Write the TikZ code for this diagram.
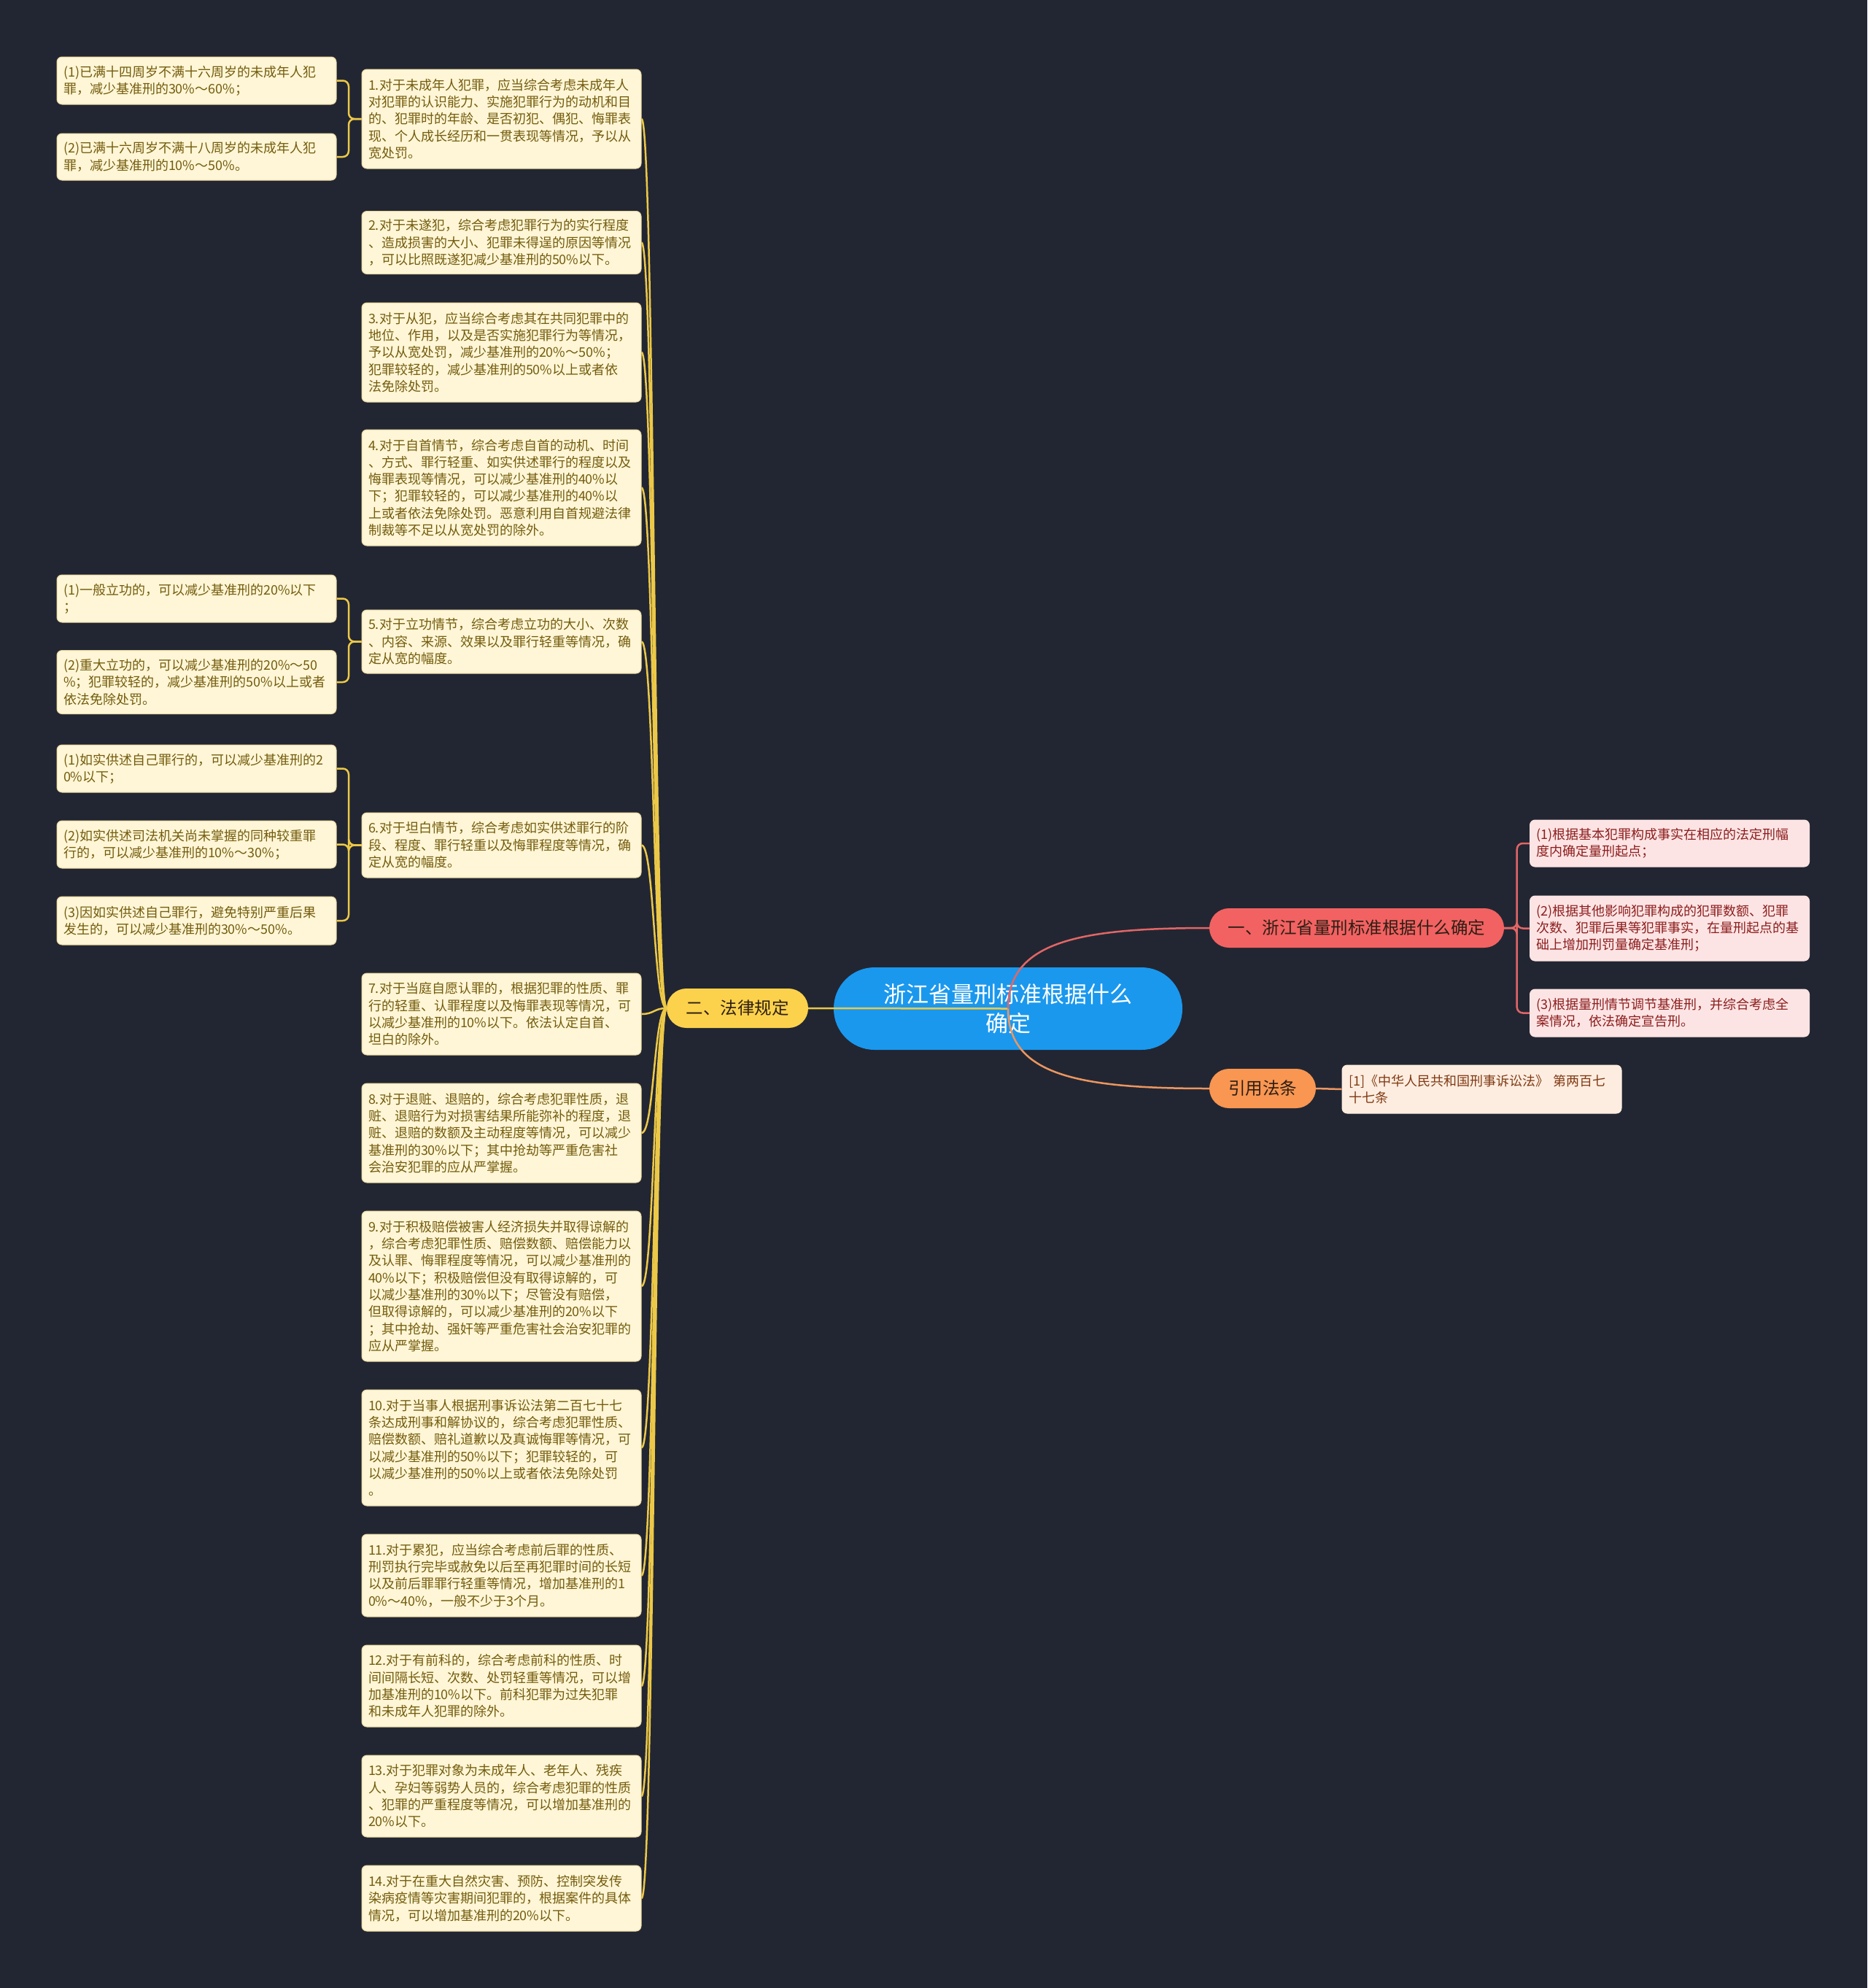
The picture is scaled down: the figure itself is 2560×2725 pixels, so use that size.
\documentclass[tikz,border=0pt]{standalone}
\usepackage{fontspec}
\setmainfont{Noto Sans CJK SC}
\usetikzlibrary{positioning}

\definecolor{bgc}{RGB}{34,38,50}
\definecolor{rootc}{RGB}{26,152,238}
\definecolor{lawc}{RGB}{252,210,76}
\definecolor{lawline}{RGB}{236,200,72}
\definecolor{leafbg}{RGB}{254,246,214}
\definecolor{leafedge}{RGB}{232,214,160}
\definecolor{leaftxt}{RGB}{116,92,14}
\definecolor{stdc}{RGB}{242,98,98}
\definecolor{stdline}{RGB}{226,102,102}
\definecolor{pinkbg}{RGB}{253,228,228}
\definecolor{pinktxt}{RGB}{140,30,30}
\definecolor{refc}{RGB}{248,150,82}
\definecolor{refline}{RGB}{236,150,96}
\definecolor{peachbg}{RGB}{253,237,224}
\definecolor{peachtxt}{RGB}{128,58,20}
\definecolor{darktxt}{RGB}{45,30,20}

\begin{document}
\begin{tikzpicture}[x=1pt, y=-1pt,
	leaf/.style = {draw=leafedge, line width=1pt, fill=leafbg, text=leaftxt, rounded corners=7pt,
		text width=365pt, inner xsep=9pt, inner ysep=0pt, align=left,
		font=\fontsize{18}{23.3}\selectfont},
	pinkleaf/.style = {leaf, draw=pinkbg, fill=pinkbg, text=pinktxt},
	peachleaf/.style = {leaf, draw=peachbg, fill=peachbg, text=peachtxt},
	pill/.style = {rounded corners=27pt, minimum height=54pt, inner sep=0pt, text=darktxt,
		font=\fontsize{23.5}{28}\selectfont},
	yline/.style = {draw=lawline, line width=2.5pt},
	ybrk/.style = {yline, rounded corners=8pt},
	rline/.style = {draw=stdline, line width=2.5pt, rounded corners=8pt},
	oline/.style = {draw=refline, line width=2.5pt}]

	\fill [bgc] (0,0) rectangle (2560,2725);

	% centre
	\node [fill=rootc, rounded corners=56pt, minimum width=478pt, minimum height=113pt, inner sep=0pt,
		text=white, align=center, font=\fontsize{31}{40}\selectfont] (root) at (1382,1382.5)
		{浙江省量刑标准根据什么\\确定};

	% right side
	\node [pill, fill=stdc, minimum width=404pt] (std) at (1860,1272) {一、浙江省量刑标准根据什么确定};
	\node [pinkleaf, minimum height=64pt] (std1) at (2289,1156)
		{(1)根据基本犯罪构成事实在相应的法定刑幅\\度内确定量刑起点；};
	\node [pinkleaf, minimum height=89pt] (std2) at (2289,1272.5)
		{(2)根据其他影响犯罪构成的犯罪数额、犯罪\\次数、犯罪后果等犯罪事实，在量刑起点的基\\础上增加刑罚量确定基准刑；};
	\node [pinkleaf, minimum height=65pt] (std3) at (2289,1388.5)
		{(3)根据量刑情节调节基准刑，并综合考虑全\\案情况，依法确定宣告刑。};

	\node [pill, fill=refc, minimum width=146pt] (ref) at (1731,1492) {引用法条};
	\node [peachleaf, minimum height=66pt] (ref1) at (2031.5,1493)
		{[1]《中华人民共和国刑事诉讼法》 第两百七\\十七条};

	% left side
	\node [pill, fill=lawc, minimum width=194pt] (law) at (1011,1382) {二、法律规定};

	\node [leaf, minimum height=136pt] (n1) at (687.5,163)
		{1.对于未成年人犯罪，应当综合考虑未成年人\\对犯罪的认识能力、实施犯罪行为的动机和目\\的、犯罪时的年龄、是否初犯、偶犯、悔罪表\\现、个人成长经历和一贯表现等情况，予以从\\宽处罚。};
	\node [leaf, minimum height=86pt] (n2) at (687.5,332.5)
		{2.对于未遂犯，综合考虑犯罪行为的实行程度\\、造成损害的大小、犯罪未得逞的原因等情况\\，可以比照既遂犯减少基准刑的50\%以下。};
	\node [leaf, minimum height=136pt] (n3) at (687.5,483)
		{3.对于从犯，应当综合考虑其在共同犯罪中的\\地位、作用，以及是否实施犯罪行为等情况，\\予以从宽处罚，减少基准刑的20\%～50\%；\\犯罪较轻的，减少基准刑的50\%以上或者依\\法免除处罚。};
	\node [leaf, minimum height=159pt] (n4) at (687.5,668.5)
		{4.对于自首情节，综合考虑自首的动机、时间\\、方式、罪行轻重、如实供述罪行的程度以及\\悔罪表现等情况，可以减少基准刑的40\%以\\下；犯罪较轻的，可以减少基准刑的40\%以\\上或者依法免除处罚。恶意利用自首规避法律\\制裁等不足以从宽处罚的除外。};
	\node [leaf, minimum height=87pt] (n5) at (687.5,879.5)
		{5.对于立功情节，综合考虑立功的大小、次数\\、内容、来源、效果以及罪行轻重等情况，确\\定从宽的幅度。};
	\node [leaf, minimum height=89pt] (n6) at (687.5,1158.5)
		{6.对于坦白情节，综合考虑如实供述罪行的阶\\段、程度、罪行轻重以及悔罪程度等情况，确\\定从宽的幅度。};
	\node [leaf, minimum height=112pt] (n7) at (687.5,1390)
		{7.对于当庭自愿认罪的，根据犯罪的性质、罪\\行的轻重、认罪程度以及悔罪表现等情况，可\\以减少基准刑的10\%以下。依法认定自首、\\坦白的除外。};
	\node [leaf, minimum height=136pt] (n8) at (687.5,1553)
		{8.对于退赃、退赔的，综合考虑犯罪性质，退\\赃、退赔行为对损害结果所能弥补的程度，退\\赃、退赔的数额及主动程度等情况，可以减少\\基准刑的30\%以下；其中抢劫等严重危害社\\会治安犯罪的应从严掌握。};
	\node [leaf, minimum height=206pt] (n9) at (687.5,1763)
		{9.对于积极赔偿被害人经济损失并取得谅解的\\，综合考虑犯罪性质、赔偿数额、赔偿能力以\\及认罪、悔罪程度等情况，可以减少基准刑的\\40\%以下；积极赔偿但没有取得谅解的，可\\以减少基准刑的30\%以下；尽管没有赔偿，\\但取得谅解的，可以减少基准刑的20\%以下\\；其中抢劫、强奸等严重危害社会治安犯罪的\\应从严掌握。};
	\node [leaf, minimum height=159pt] (n10) at (687.5,1984.5)
		{10.对于当事人根据刑事诉讼法第二百七十七\\条达成刑事和解协议的，综合考虑犯罪性质、\\赔偿数额、赔礼道歉以及真诚悔罪等情况，可\\以减少基准刑的50\%以下；犯罪较轻的，可\\以减少基准刑的50\%以上或者依法免除处罚\\。};
	\node [leaf, minimum height=113pt] (n11) at (687.5,2159.5)
		{11.对于累犯，应当综合考虑前后罪的性质、\\刑罚执行完毕或赦免以后至再犯罪时间的长短\\以及前后罪罪行轻重等情况，增加基准刑的1\\0\%～40\%，一般不少于3个月。};
	\node [leaf, minimum height=112pt] (n12) at (687.5,2311)
		{12.对于有前科的，综合考虑前科的性质、时\\间间隔长短、次数、处罚轻重等情况，可以增\\加基准刑的10\%以下。前科犯罪为过失犯罪\\和未成年人犯罪的除外。};
	\node [leaf, minimum height=112pt] (n13) at (687.5,2462)
		{13.对于犯罪对象为未成年人、老年人、残疾\\人、孕妇等弱势人员的，综合考虑犯罪的性质\\、犯罪的严重程度等情况，可以增加基准刑的\\20\%以下。};
	\node [leaf, minimum height=90pt] (n14) at (687.5,2602)
		{14.对于在重大自然灾害、预防、控制突发传\\染病疫情等灾害期间犯罪的，根据案件的具体\\情况，可以增加基准刑的20\%以下。};

	% outer leaves
	\node [leaf, minimum height=65pt] (l1a) at (269.5,110.5)
		{(1)已满十四周岁不满十六周岁的未成年人犯\\罪，减少基准刑的30\%～60\%；};
	\node [leaf, minimum height=64pt] (l1b) at (269.5,215)
		{(2)已满十六周岁不满十八周岁的未成年人犯\\罪，减少基准刑的10\%～50\%。};
	\node [leaf, minimum height=65pt] (l5a) at (269.5,820.5)
		{(1)一般立功的，可以减少基准刑的20\%以下\\；};
	\node [leaf, minimum height=87pt] (l5b) at (269.5,935)
		{(2)重大立功的，可以减少基准刑的20\%～50\\\%；犯罪较轻的，减少基准刑的50\%以上或者\\依法免除处罚。};
	\node [leaf, minimum height=65pt] (l6a) at (269.5,1053.5)
		{(1)如实供述自己罪行的，可以减少基准刑的2\\0\%以下；};
	\node [leaf, minimum height=65pt] (l6b) at (269.5,1157.5)
		{(2)如实供述司法机关尚未掌握的同种较重罪\\行的，可以减少基准刑的10\%～30\%；};
	\node [leaf, minimum height=66pt] (l6c) at (269.5,1262)
		{(3)因如实供述自己罪行，避免特别严重后果\\发生的，可以减少基准刑的30\%～50\%。};

	% connectors
	\draw [yline] (root.center) -- (law.east);
	\draw [rline] (root.center) .. controls +(0,-92) and +(-178,0) .. (std.west);
	\draw [oline] (root.center) .. controls +(0,92) and +(-178,0) .. (ref.west);
	\foreach \k in {1,...,14}
		\draw [yline] (law.west) .. controls +(-17.5,0) and +(17.5,0) .. (n\k.east);
	\foreach \c in {std1,std2,std3}
		\draw [rline] (std.east) -- ++(17.5,0) |- (\c.west);
	\draw [oline] (ref.east) -- (ref1.west);
	\foreach \c in {l1a,l1b}
		\draw [ybrk] (n1.west) -- ++(-17.5,0) |- (\c.east);
	\foreach \c in {l5a,l5b}
		\draw [ybrk] (n5.west) -- ++(-17.5,0) |- (\c.east);
	\foreach \c in {l6a,l6b,l6c}
		\draw [ybrk] (n6.west) -- ++(-17.5,0) |- (\c.east);
\end{tikzpicture}
\end{document}
